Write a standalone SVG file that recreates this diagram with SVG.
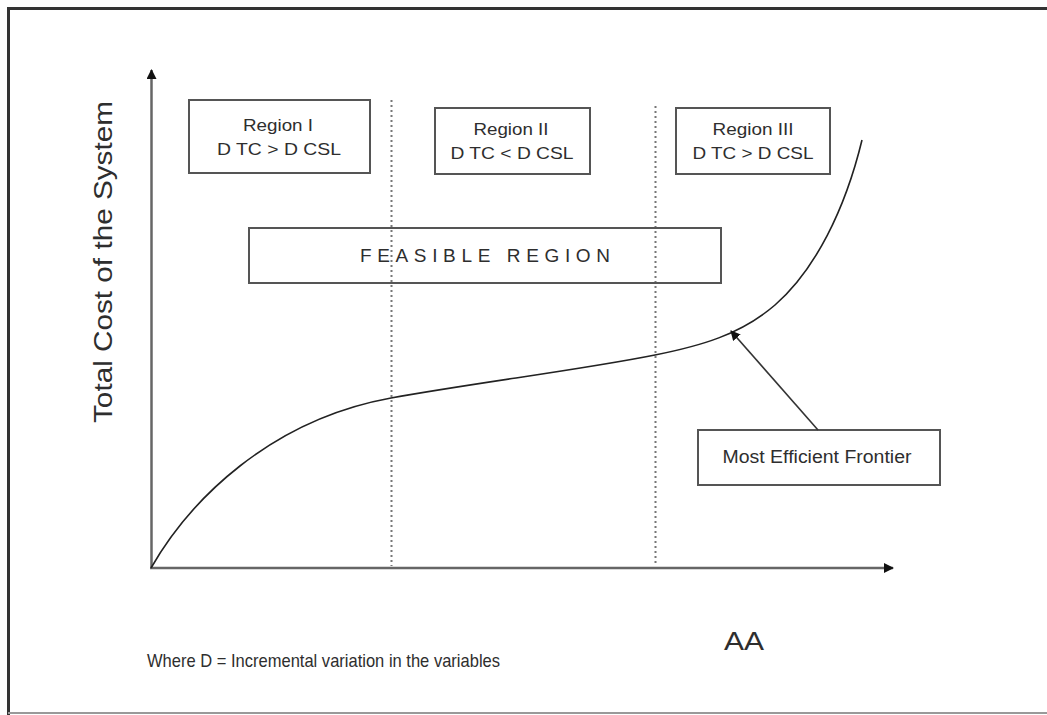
<svg xmlns="http://www.w3.org/2000/svg" width="1047" height="715" viewBox="0 0 1047 715">
  <style>
    text { font-family: "Liberation Sans", Arial, sans-serif; fill: #2e2e2e; }
    .box { fill: #fff; stroke: #555; stroke-width: 2; }
    .axis { stroke: #666; stroke-width: 2.5; fill: none; }
    .dot { stroke: #777; stroke-width: 2; stroke-dasharray: 2 3; fill: none; }
    .lbl { font-size: 17px; text-anchor: middle; }
  </style>
  <defs>
    <marker id="tip" viewBox="0 0 10 10" refX="9" refY="5" markerWidth="10" markerHeight="10" markerUnits="userSpaceOnUse" orient="auto">
      <path d="M0,0 L10,5 L0,10 z" fill="#111"/>
    </marker>
  </defs>

  <rect width="1047" height="715" fill="#fff"/>
  <!-- page frame -->
  <line x1="8" y1="8.5" x2="1047" y2="8.5" stroke="#333" stroke-width="3"/>
  <line x1="8.5" y1="7" x2="8.5" y2="715" stroke="#333" stroke-width="3"/>
  <line x1="8" y1="713" x2="1047" y2="713" stroke="#999" stroke-width="2"/>

  <!-- region separators -->
  <g id="separators">
    <line class="dot" x1="391.5" y1="100" x2="391.5" y2="566"/>
    <line class="dot" x1="655.5" y1="106" x2="655.5" y2="566"/>
  </g>

  <g id="axes">
    <line class="axis" x1="151.5" y1="569" x2="151.5" y2="70" marker-end="url(#tip)"/>
    <line class="axis" x1="150" y1="568" x2="893" y2="568" marker-end="url(#tip)"/>
    <text x="112" y="262" font-size="26" text-anchor="middle" textLength="322" lengthAdjust="spacingAndGlyphs" transform="rotate(-90 112 262)">Total Cost of the System</text>
    <text x="744" y="650" font-size="25" text-anchor="middle" textLength="40" lengthAdjust="spacingAndGlyphs">AA</text>
  </g>

  <g id="frontier">
    <path d="M151,568 C190,500 270,420 391,398 C480,382 580,370 655,355 C700,346 740,335 775,305 C815,270 845,210 862,140" fill="none" stroke="#222" stroke-width="1.6"/>
  </g>

  <g id="region-1">
    <rect class="box" x="189" y="100" width="181" height="73"/>
    <text class="lbl" x="278" y="131" textLength="70" lengthAdjust="spacingAndGlyphs">Region I</text>
    <text class="lbl" x="279" y="155" textLength="124" lengthAdjust="spacingAndGlyphs">D TC &gt; D CSL</text>
  </g>

  <g id="region-2">
    <rect class="box" x="435" y="108" width="155" height="66"/>
    <text class="lbl" x="511" y="135" textLength="75" lengthAdjust="spacingAndGlyphs">Region II</text>
    <text class="lbl" x="512" y="159" textLength="123" lengthAdjust="spacingAndGlyphs">D TC &lt; D CSL</text>
  </g>

  <g id="region-3">
    <rect class="box" x="676" y="108" width="154" height="66"/>
    <text class="lbl" x="753" y="135" textLength="81" lengthAdjust="spacingAndGlyphs">Region III</text>
    <text class="lbl" x="753" y="159" textLength="121" lengthAdjust="spacingAndGlyphs">D TC &gt; D CSL</text>
  </g>

  <g id="feasible-region">
    <rect class="box" x="249" y="228" width="472" height="55" fill-opacity="0"/>
    <text x="485" y="262" font-size="19" text-anchor="middle" textLength="250" lengthAdjust="spacing">FEASIBLE REGION</text>
  </g>

  <g id="frontier-label">
    <rect class="box" x="698" y="430" width="242" height="55"/>
    <text x="817" y="463" font-size="17.5" text-anchor="middle" textLength="189" lengthAdjust="spacingAndGlyphs">Most Efficient Frontier</text>
  </g>

  <g id="connectors">
    <line x1="818" y1="430" x2="731" y2="331" stroke="#333" stroke-width="1.6" marker-end="url(#tip)"/>
  </g>

  <text x="147" y="667" font-size="19" textLength="353" lengthAdjust="spacingAndGlyphs">Where D = Incremental variation in the variables</text>
</svg>
